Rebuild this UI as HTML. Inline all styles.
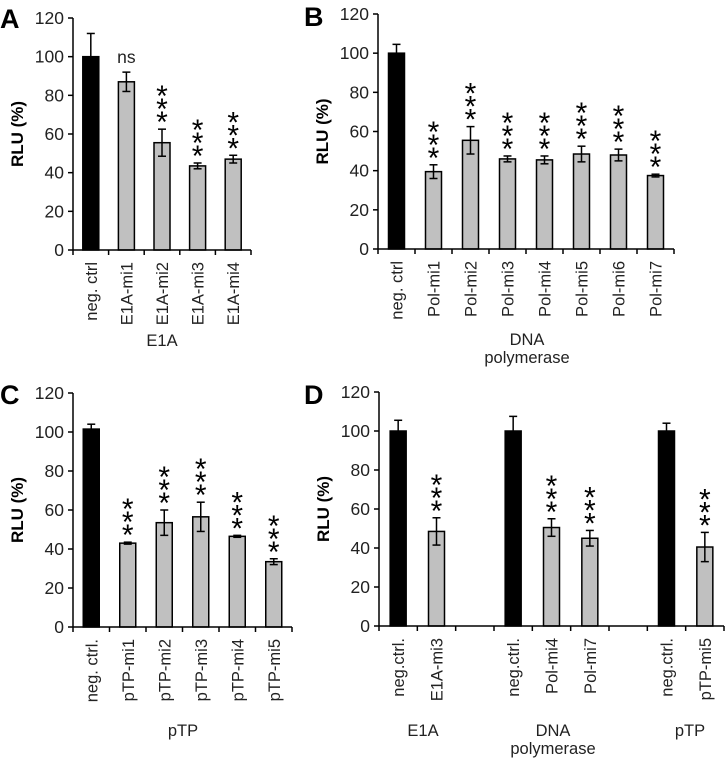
<!DOCTYPE html>
<html><head><meta charset="utf-8"><style>
body{margin:0;background:#fff;}
svg{display:block;font-family:"Liberation Sans",Arial,sans-serif;}
</style></head><body>
<svg id="fig" width="725" height="759" viewBox="0 0 725 759" xmlns="http://www.w3.org/2000/svg"></svg>
<script>
const catsA = ["neg. ctrl","E1A-mi1","E1A-mi2","E1A-mi3","E1A-mi4"];
const valsA = [100,87,55.5,43.5,47];
const errA = [12,5,7,1.5,2];
const sigA = ["","ns","***","***","***"];
const catsB = ["neg. ctrl","Pol-mi1","Pol-mi2","Pol-mi3","Pol-mi4","Pol-mi5","Pol-mi6","Pol-mi7"];
const valsB = [100,39.5,55.5,46,45.5,48.5,48,37.5];
const errB = [4.5,3.5,7,1.5,2,4,3,0.7];
const sigB = ["","***","***","***","***","***","***","***"];
const catsC = ["neg. ctrl.","pTP-mi1","pTP-mi2","pTP-mi3","pTP-mi4","pTP-mi5"];
const valsC = [101.5,43,53.5,56.5,46.5,33.5];
const errC = [2.5,0.5,6.5,7.5,0.5,1.5];
const sigC = ["","***","***","***","***","***"];
const catsD = ["neg.ctrl.","E1A-mi3","","neg.ctrl.","Pol-mi4","Pol-mi7","","neg.ctrl.","pTP-mi5"];
const valsD = [100,48.5,null,100,50.5,45,null,100,40.5];
const errD = [5.5,7,0,7.5,4.5,4,0,4,7.5];
const sigD = ["","***","","","***","***","","","***"];
const yTicks = [0,20,40,60,80,100,120];

const NS="http://www.w3.org/2000/svg";
const svg=document.getElementById('fig');
function mk(t,a,p){const e=document.createElementNS(NS,t);for(const k in a)e.setAttribute(k,a[k]);(p||svg).appendChild(e);return e;}

function panel(id,cfg,cats,vals,errs,sigs){
  const g=mk('g',{});
  
  
  const {x0,x1,y0,y120,letterX,letterY,groups}=cfg;
  const ys=v=>y0-(v/120)*(y0-y120);
  const n=cats.length, bw=(x1-x0)/n;
  const xs=i=>x0+bw*(i+0.5);
  const L=mk('text',{x:letterX,y:letterY,'font-size':27,'font-weight':'bold'},g);L.textContent=id;
  
  
  const yl=mk('text',{transform:`translate(${x0-50},${(y0+y120)/2}) rotate(-90)`,'text-anchor':'middle','font-size':17,'font-weight':'bold'},g);
  yl.textContent='RLU (%)';
  
  
  yTicks.forEach(t=>{
    const y=ys(t);
    mk('line',{x1:x0-5,x2:x0,y1:y,y2:y,stroke:'#000','stroke-width':1.5},g);
    const tx=mk('text',{x:x0-9,y:y+6,'text-anchor':'end','font-size':17.5,fill:'#222'},g);
    tx.textContent=t;
    
    
  });
  for(let i=0;i<=n;i++){const x=x0+bw*i;mk('line',{x1:x,x2:x,y1:y0,y2:y0+5,stroke:'#000','stroke-width':1.5},g);}
  vals.forEach((v,i)=>{
    const cx=xs(i);
    if(cats[i]){
      const t=mk('text',{transform:`translate(${cx+6},${y0+12}) rotate(-90)`,'text-anchor':'end','font-size':16.5,fill:'#222'},g);
      t.textContent=cats[i];
      
      
    }
    if(v==null)return;
    const black=cats[i].startsWith('neg');
    const r=mk('rect',{x:cx-8,y:ys(v),width:16,height:y0-ys(v),fill:black?'#000':'#c0c0c0',stroke:'#000','stroke-width':1.5},g);
    
    
    const e=errs[i], yt=ys(v+e), yb=ys(v-e);
    const eg=mk('g',{stroke:'#000','stroke-width':1.5},g);
    
    
    mk('line',{x1:cx,x2:cx,y1:yt,y2:black?ys(v):yb},eg);
    mk('line',{x1:cx-4,x2:cx+4,y1:yt,y2:yt},eg);
    if(!black)mk('line',{x1:cx-4,x2:cx+4,y1:yb,y2:yb},eg);
    if(sigs[i]==='ns'){
      const s=mk('text',{x:cx,y:yt-9,'text-anchor':'middle','font-size':17.5,fill:'#222'},g);
      s.textContent='ns';
      
      
    } else if(sigs[i]){
      for(let k=0;k<3;k++){
        const c=yt-14-k*13;
        const s=mk('text',{x:cx,y:c+17,'text-anchor':'middle','font-size':30},g);
        s.textContent='*';
        
        
      }
    }
  });
  mk('line',{x1:x0,x2:x0,y1:y120,y2:y0,stroke:'#000','stroke-width':1.5},g);
  mk('line',{x1:x0,x2:x1,y1:y0,y2:y0,stroke:'#000','stroke-width':1.5},g);
  groups.forEach(gr=>{
    gr.lines.forEach((ln,j)=>{
      const t=mk('text',{x:gr.x,y:gr.y+j*18,'text-anchor':'middle','font-size':16.5,fill:'#222'},g);
      t.textContent=ln;
      
      
    });
  });
}
panel('A',{x0:73,x1:251,y0:250,y120:18,letterX:0,letterY:28,groups:[{x:162,y:346,lines:['E1A']}]},catsA,valsA,errA,sigA);
panel('B',{x0:378,x1:674,y0:249,y120:14,letterX:304,letterY:26,groups:[{x:527,y:345,lines:['DNA','polymerase']}]},catsB,valsB,errB,sigB);
panel('C',{x0:73,x1:292,y0:627,y120:393,letterX:0,letterY:404,groups:[{x:183,y:736,lines:['pTP']}]},catsC,valsC,errC,sigC);
panel('D',{x0:379,x1:724,y0:626,y120:392,letterX:304,letterY:404,groups:[{x:423,y:736,lines:['E1A']},{x:553,y:736,lines:['DNA','polymerase']},{x:690,y:736,lines:['pTP']}]},catsD,valsD,errD,sigD);
</script>
</body></html>
